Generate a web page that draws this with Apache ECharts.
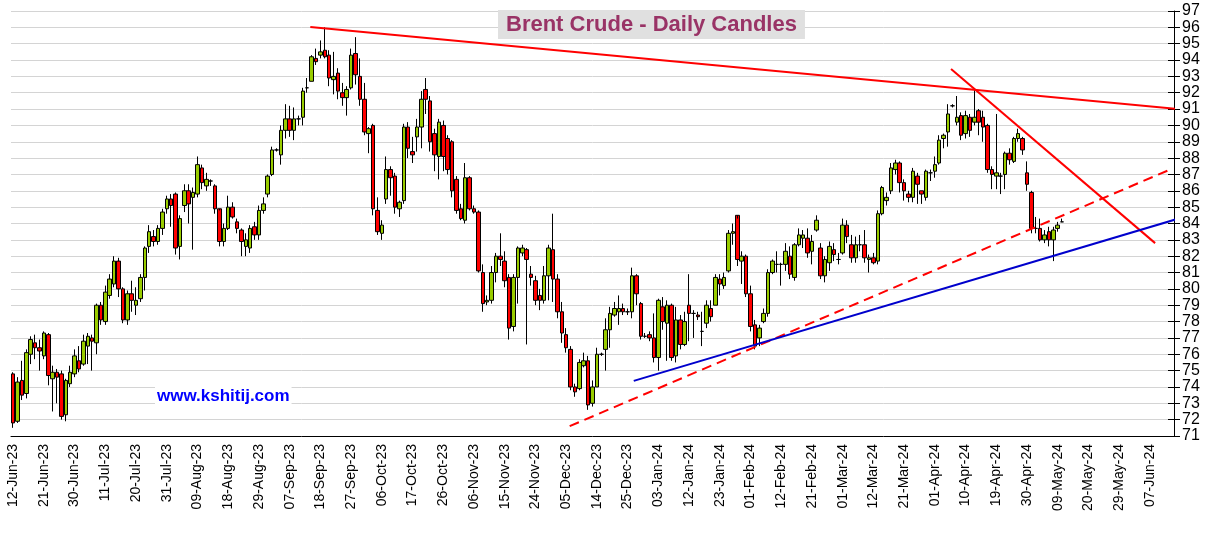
<!DOCTYPE html>
<html><head><meta charset="utf-8">
<script src="https://cdn.jsdelivr.net/npm/echarts@6/dist/echarts.min.js"></script>
<style>html,body{margin:0;padding:0;background:#fff}#c{width:1212px;height:536px}</style>
</head><body><div id="c"></div>
<script>
const startDate = '2023-06-12';
const totalDays = 265;
// [open, close, low, high]
const candles = [
[74.8,71.8,71.5,74.9],[71.9,74.3,71.8,74.6],[74.4,73.5,73.2,75.6],[73.6,76.1,73.3,76.3],[76.0,76.9,75.4,77.1],
[76.7,76.4,75.7,77.2],[76.4,76.2,75.0,76.9],[75.9,77.3,75.7,77.4],[77.2,74.7,74.1,77.3],[74.5,74.9,72.5,75.3],
[74.9,74.6,73.0,75.1],[74.8,72.2,72.0,75.0],[72.3,74.4,71.9,74.5],[74.2,74.9,74.0,75.3],[74.8,75.9,74.6,76.3],
[75.6,75.1,74.9,76.5],[75.4,76.8,75.3,77.2],[76.5,77.1,75.4,77.3],[77.0,76.8,75.0,77.2],[76.7,79.0,76.0,79.1],
[79.0,78.1,77.8,79.2],[78.0,79.8,77.8,80.2],[79.6,80.6,79.4,80.9],[80.3,81.7,80.1,82.0],[81.7,80.0,79.5,81.9],
[80.0,78.1,77.9,80.1],[78.1,79.7,77.8,79.9],[79.7,79.3,78.6,80.5],[79.0,79.3,78.4,80.1],[79.4,80.7,79.2,80.9],
[80.7,82.5,79.9,82.6],[82.6,83.5,82.2,83.9],[83.2,82.9,82.6,83.6],[82.9,83.7,82.7,83.9],[83.7,84.7,83.3,84.9],
[84.9,85.5,84.6,85.7],[85.5,85.1,83.8,85.8],[85.8,82.5,82.1,85.9],[82.6,84.3,81.8,84.5],[85.1,86.0,84.7,86.4],
[86.0,85.2,84.0,86.4],[85.6,85.9,82.4,86.2],[85.8,87.6,85.6,88.1],[87.4,86.5,86.1,87.6],[86.3,86.7,86.0,87.1],
[86.6,86.6,86.3,86.7],[86.3,84.9,84.6,86.4],[84.9,82.9,82.6,84.8],[82.9,83.7,82.6,84.0],[83.7,85.0,83.6,85.7],
[85.0,84.4,84.3,85.3],[84.1,83.7,83.4,84.3],[83.6,82.9,82.0,83.7],[82.6,83.0,82.0,83.4],[82.5,83.7,82.2,83.9],
[83.8,83.3,83.0,84.1],[83.3,84.8,83.0,85.1],[84.8,85.2,84.6,85.6],[85.8,86.9,85.6,87.0],[87.0,88.5,86.9,88.7],
[88.5,88.5,88.4,88.6],[88.2,89.7,87.6,90.0],[89.7,90.4,89.2,91.3],[90.4,89.7,89.3,91.2],[89.7,90.4,89.1,91.1],
[90.4,90.4,90.0,90.6],[90.5,92.1,90.0,92.3],[92.3,92.3,92.0,92.9],[92.7,94.2,92.7,94.3],[94.1,93.9,93.7,94.7],
[94.3,94.5,94.1,95.2],[94.6,94.2,94.1,96.0],[94.3,92.9,92.4,94.6],[92.8,93.0,91.9,94.5],[93.2,92.1,91.6,93.5],
[92.0,91.7,91.2,92.6],[91.7,92.2,90.6,92.4],[92.3,94.3,92.2,94.7],[94.4,93.1,92.5,95.4],[93.0,91.6,91.2,94.1],
[91.6,89.6,89.4,92.6],[89.5,89.8,88.3,89.9],[90.0,84.9,84.5,90.1],[84.8,83.5,83.3,85.6],[83.4,83.9,83.0,84.2],
[85.5,87.3,85.2,88.1],[87.3,86.8,85.7,87.5],[86.9,85.0,84.6,87.1],[84.9,85.3,84.4,85.4],[85.4,89.9,85.2,90.1],
[89.9,88.6,88.0,90.2],[88.4,88.2,87.7,89.3],[89.3,89.9,88.4,90.4],[89.9,91.6,88.6,92.1],[92.2,91.6,90.7,92.9],
[91.5,89.0,88.4,91.8],[89.5,88.2,87.2,89.8],[88.1,90.2,86.7,90.4],[90.0,88.1,87.2,90.3],[89.2,87.3,87.0,89.4],
[89.0,86.0,85.6,89.1],[86.7,84.8,84.6,86.9],[84.9,84.3,84.2,85.2],[84.2,86.8,84.0,87.7],[86.8,84.9,84.8,86.9],
[84.9,84.7,84.6,85.1],[84.7,81.1,81.0,84.8],[81.0,79.1,78.6,81.5],[79.2,79.3,79.0,79.6],[79.3,81.0,79.1,81.4],
[81.0,82.0,80.4,82.2],[82.0,81.8,81.4,83.4],[81.7,80.5,80.1,82.3],[80.7,77.6,76.9,80.9],[77.7,80.7,77.4,80.9],
[80.7,82.5,79.1,82.6],[82.2,82.5,82.0,82.7],[82.4,81.8,76.6,82.5],[80.9,80.7,80.2,81.4],[80.5,79.3,79.0,80.8],
[79.6,79.3,78.7,80.0],[79.3,80.8,79.1,81.4],[80.8,82.5,79.3,82.7],[82.4,80.6,79.2,84.6],[80.6,78.6,78.2,80.9],
[78.6,77.3,76.7,79.2],[77.2,76.4,76.1,77.6],[76.3,74.0,73.8,76.5],[74.0,73.7,73.4,74.2],[73.9,75.5,73.8,75.7],
[75.3,75.6,75.2,76.1],[75.6,72.9,72.6,75.9],[73.0,74.0,72.8,74.4],[74.0,76.0,74.0,76.4],[76.0,76.0,75.9,76.1],
[76.3,77.5,75.0,78.2],[77.5,78.5,76.4,78.9],[78.4,78.8,78.3,79.2],[78.6,78.8,77.8,79.6],[78.8,78.6,78.4,79.1],
[78.6,78.6,78.4,78.8],[78.6,80.8,78.2,81.3],[80.8,79.7,79.0,80.9],[79.1,77.1,76.9,79.2],[77.1,77.1,77.0,77.3],
[77.2,77.0,76.8,77.4],[77.0,75.8,75.5,78.5],[75.8,79.3,75.0,79.4],[78.9,78.0,77.5,79.5],[77.9,79.0,75.6,79.3],
[79.0,75.8,75.6,79.1],[75.9,78.1,75.5,78.9],[78.1,76.6,76.3,78.4],[76.6,78.0,76.5,78.6],[79.0,78.5,76.8,80.9],
[78.5,78.5,77.0,78.7],[78.4,78.3,78.1,78.6],[77.4,77.4,76.5,78.6],[77.9,79.0,77.6,79.3],[78.8,78.3,78.0,79.3],
[79.0,80.7,79.0,80.9],[80.6,80.3,79.6,80.9],[80.2,80.7,80.0,81.0],[81.1,83.4,81.0,83.6],[83.4,83.5,82.7,84.0],
[84.5,81.8,81.4,84.3],[81.7,82.0,80.3,82.3],[82.0,79.7,79.5,82.1],[79.7,77.7,77.4,80.2],[77.8,76.5,76.3,78.1],
[77.0,77.6,76.5,77.8],[78.0,78.5,77.9,78.8],[78.5,81.0,78.3,81.2],[81.0,81.7,80.9,81.8],[81.5,81.5,81.0,82.3],
[81.5,81.5,80.2,81.6],[81.5,82.3,81.1,82.8],[82.0,80.9,80.6,82.6],[80.7,82.7,80.5,82.8],[82.7,83.3,82.6,83.7],
[83.1,83.3,82.5,83.6],[83.1,82.2,81.9,83.7],[82.3,82.9,81.5,83.3],[83.6,84.2,83.5,84.5],[82.5,80.8,80.6,82.8],
[80.8,81.8,80.4,82.0],[81.6,82.6,81.1,82.9],[82.4,82.1,81.7,82.8],[81.8,81.8,81.5,82.2],[82.2,83.9,82.1,84.3],
[83.9,83.2,82.8,84.2],[82.7,81.9,81.6,83.3],[81.9,82.7,81.6,83.2],[82.7,82.7,82.3,83.3],[82.7,81.9,81.6,83.6],
[81.8,81.9,81.0,82.1],[81.9,81.6,81.5,82.2],[81.7,84.6,81.5,84.8],[84.6,86.2,84.5,86.3],[85.4,85.6,85.1,85.9],
[86.0,87.4,85.8,87.7],[87.3,87.7,87.0,87.9],[87.7,86.5,85.9,87.8],[86.5,86.0,85.4,86.7],[85.8,85.6,85.3,86.0],
[85.6,87.2,85.3,87.4],[86.9,86.4,85.2,87.1],[86.0,85.8,85.2,86.0],[85.6,87.2,85.4,87.3],[87.1,87.1,86.6,87.3],
[87.2,87.6,86.8,88.1],[87.7,89.1,87.6,89.4],[89.2,89.4,88.6,89.5],[89.6,90.7,88.7,91.3],[91.2,91.2,91.1,91.3],
[90.2,90.5,90.0,91.8],[90.6,89.4,89.1,90.8],[89.5,90.6,89.2,90.9],[90.5,89.7,89.3,90.7],[90.2,90.5,90.0,92.2],
[90.9,90.2,89.4,91.0],[90.5,89.9,89.0,90.9],[90.0,87.3,87.1,90.1],[87.3,87.0,86.1,87.5],[86.9,87.1,86.1,90.7],
[86.9,86.9,85.8,87.1],[87.0,88.3,86.1,88.4],[88.3,87.9,87.6,88.6],[87.8,89.2,87.7,89.3],[89.2,89.5,89.0,89.8],
[89.2,88.5,88.2,89.3],[87.1,86.4,86.0,87.8],[85.9,83.7,83.4,86.0],[83.7,83.7,83.4,84.4],[83.7,83.0,82.9,84.3],
[83.0,83.3,82.8,83.6],[83.5,83.0,82.6,83.8],[83.0,83.6,81.7,83.8],[83.7,83.9,83.5,84.1],[84.1,84.1,84.1,84.3]
];
// trend lines [startIndex, startValue, endIndex, endValue]
const topLine = [67.7, 96.02, 265.5, 91.0];
const steepLine = [213.7, 93.45, 260.2, 82.8];
const dashedLine = [126.8, 71.6, 263.6, 87.3];
const blueLine = [141.4, 74.37, 265.5, 84.3];
const yMin = 71, yMax = 97;

const mon = ['Jan','Feb','Mar','Apr','May','Jun','Jul','Aug','Sep','Oct','Nov','Dec'];
const cats = [];
let d = new Date(startDate + 'T00:00:00Z');
while (cats.length < totalDays) {
  const wd = d.getUTCDay();
  if (wd !== 0 && wd !== 6) {
    cats.push(String(d.getUTCDate()).padStart(2,'0') + '-' + mon[d.getUTCMonth()] + '-' + String(d.getUTCFullYear()).slice(2));
  }
  d = new Date(d.getTime() + 86400000);
}
const seriesData = candles.map(r => [r[0], r[1], r[2], r[3]]);

function seg(l, color, type) {
  return {
    type: 'line', data: [[l[0], l[1]], [l[2], l[3]]], symbol: 'none', silent: true,
    lineStyle: {color: color, width: 2, type: type}, z: 5, animation: false,
    xAxisIndex: 1
  };
}

const chart = echarts.init(document.getElementById('c'));
chart.setOption({
  animation: false,
  backgroundColor: '#fff',
  title: {
    text: 'Brent Crude - Daily Candles', left: 498, top: 10,
    backgroundColor: '#e0e0e0', padding: [4, 8, 3, 8],
    textStyle: {color: '#993366', fontSize: 22, fontWeight: 'bold', fontFamily: 'Liberation Sans, Arial'}
  },
  graphic: [{
    type: 'text', left: 155, top: 386, z: 10,
    style: {text: 'www.kshitij.com', fill: '#0000ff', font: 'bold 17px "Liberation Sans", Arial', backgroundColor: '#fff', padding: [2,2]}
  }],
  grid: {left: 11, right: 38, top: 11, bottom: 100},
  xAxis: [{
    type: 'category', data: cats, boundaryGap: true,
    axisLine: {lineStyle: {color: '#000'}},
    axisTick: {interval: 6, alignWithLabel: true, length: 5, lineStyle: {color: '#000'}},
    axisLabel: {interval: 6, rotate: 90, color: '#000', fontSize: 14, fontFamily: 'Liberation Sans, Arial', margin: 8},
    splitLine: {show: false}
  }, {
    type: 'value', min: -0.5, max: totalDays - 0.5, show: false
  }],
  yAxis: [{
    type: 'value', position: 'right', min: yMin, max: yMax, interval: 1,
    axisLine: {show: true, onZero: false, lineStyle: {color: '#000'}},
    axisTick: {show: true, length: 6, lineStyle: {color: '#000'}},
    axisLabel: {color: '#000', fontSize: 16, fontFamily: 'Liberation Sans, Arial', margin: 8, showMinLabel: true, showMaxLabel: true, hideOverlap: false},
    splitLine: {lineStyle: {color: '#d4d4d4', width: 1}}
  }, {
    type: 'value', position: 'right', min: yMin, max: yMax, interval: 1,
    axisLine: {show: false, onZero: false},
    axisTick: {show: true, inside: true, length: 6, lineStyle: {color: '#000'}},
    axisLabel: {show: false}, splitLine: {show: false}
  }],
  series: [{
    type: 'candlestick', data: seriesData, barWidth: 4,
    itemStyle: {color: '#99cc00', color0: '#ff0000', borderColor: '#000', borderColor0: '#000', borderWidth: 1}
  },
  seg(topLine, '#ff0000', 'solid'),
  seg(steepLine, '#ff0000', 'solid'),
  seg(dashedLine, '#ff0000', [10, 6]),
  seg(blueLine, '#0000cc', 'solid')
  ]
});
</script></body></html>
